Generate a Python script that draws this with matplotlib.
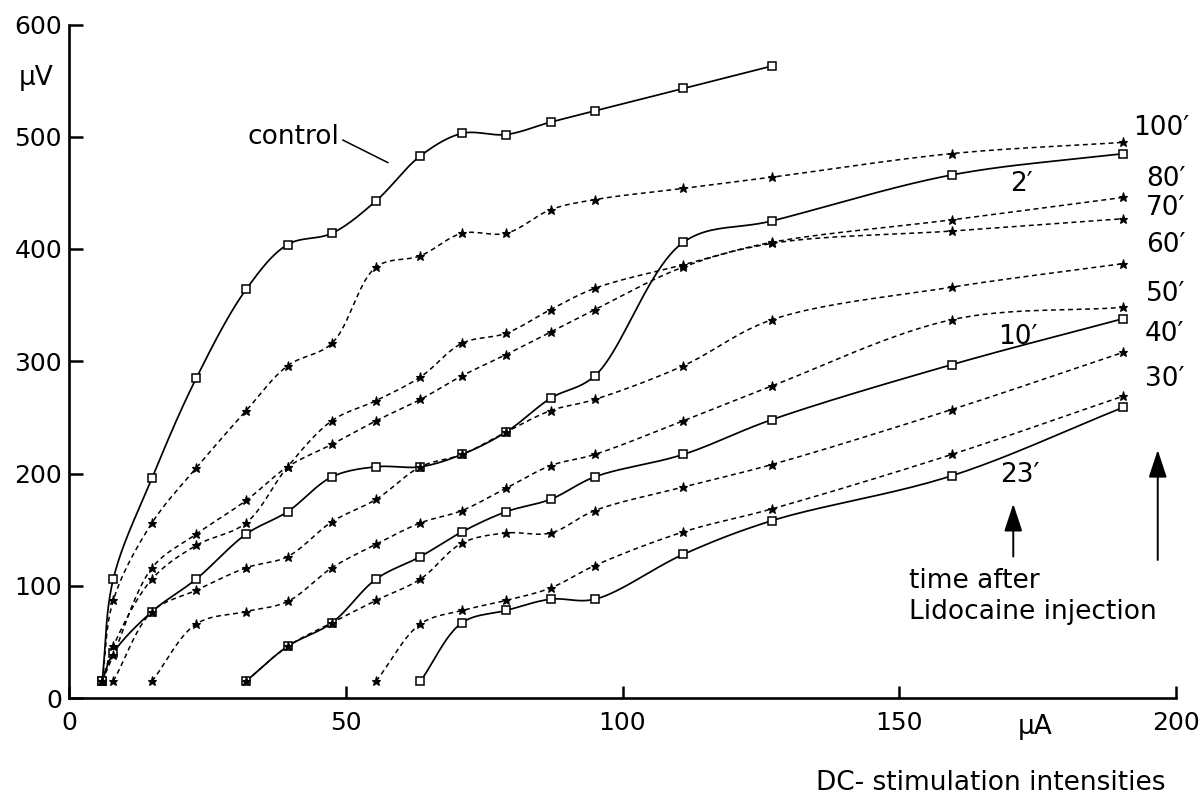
import numpy as np
import matplotlib
matplotlib.use("Agg")
import matplotlib.pyplot as plt

# ---------------- data ----------------
control_x = [6, 8, 15, 23, 32, 39.5, 47.5, 55.5, 63.5, 71, 79, 87, 95, 111, 127]
control_y = [15, 106, 196, 285, 364, 404, 414, 443, 483, 503, 502, 513, 523, 543, 563]

t100_x = [6, 8, 15, 23, 32, 39.5, 47.5, 55.5, 63.5, 71, 79, 87, 95, 111, 127, 159.5, 190.5]
t100_y = [15, 87, 156, 205, 256, 296, 316, 384, 394, 414, 414, 435, 444, 454, 464, 485, 495]

t80_x = [6, 8, 15, 23, 32, 39.5, 47.5, 55.5, 63.5, 71, 79, 87, 95, 111, 127, 159.5, 190.5]
t80_y = [15, 46, 106, 136, 156, 206, 247, 265, 286, 316, 325, 346, 365, 386, 406, 426, 446]

t70_x = [6, 8, 15, 23, 32, 39.5, 47.5, 55.5, 63.5, 71, 79, 87, 95, 111, 127, 159.5, 190.5]
t70_y = [15, 38, 116, 146, 176, 206, 226, 247, 266, 287, 306, 326, 346, 384, 405, 416, 427]

t60_x = [8, 15, 23, 32, 39.5, 47.5, 55.5, 63.5, 71, 79, 87, 95, 111, 127, 159.5, 190.5]
t60_y = [15, 77, 96, 116, 126, 157, 177, 206, 217, 237, 256, 266, 296, 337, 366, 387]

t50_x = [15, 23, 32, 39.5, 47.5, 55.5, 63.5, 71, 79, 87, 95, 111, 127, 159.5, 190.5]
t50_y = [15, 66, 77, 86, 116, 137, 156, 167, 187, 207, 217, 247, 278, 337, 348]

t40_x = [32, 39.5, 47.5, 55.5, 63.5, 71, 79, 87, 95, 111, 127, 159.5, 190.5]
t40_y = [15, 46, 67, 87, 106, 138, 147, 147, 167, 188, 208, 257, 308]

t30_x = [55.5, 63.5, 71, 79, 87, 95, 111, 127, 159.5, 190.5]
t30_y = [15, 66, 78, 87, 98, 118, 148, 168.5, 217, 269]

t2_x = [6, 8, 15, 23, 32, 39.5, 47.5, 55.5, 63.5, 71, 79, 87, 95, 111, 127, 159.5, 190.5]
t2_y = [15, 40, 77, 106, 146, 166, 197, 206, 206, 217, 237, 267, 287, 406, 425, 466, 485]

t10_x = [32, 39.5, 47.5, 55.5, 63.5, 71, 79, 87, 95, 111, 127, 159.5, 190.5]
t10_y = [15, 46, 67, 106, 126, 148, 166, 177, 197, 217, 248, 297, 338]

t23_x = [63.5, 71, 79, 87, 95, 111, 127, 159.5, 190.5]
t23_y = [15, 67, 78, 88, 88, 128, 158, 198, 259]

series_labels = ["100\u2032", "80\u2032", "70\u2032", "60\u2032", "50\u2032", "40\u2032", "30\u2032"]
label_2, label_10, label_23 = "2\u2032", "10\u2032", "23\u2032"

x_ticks = [0, 50, 100, 150, 200]
y_ticks = [0, 100, 200, 300, 400, 500, 600]

# ---------------- helpers ----------------
SX, SY = 5.535, 1.12  # approx px per data unit, used only to shape the spline


def smooth(xs, ys, n=24, alpha=0.5):
    P = np.column_stack([np.asarray(xs, float) * SX, np.asarray(ys, float) * SY])
    P = np.vstack([2 * P[0] - P[1], P, 2 * P[-1] - P[-2]])
    out = []
    for i in range(1, len(P) - 2):
        p0, p1, p2, p3 = P[i - 1], P[i], P[i + 1], P[i + 2]
        t0 = 0.0
        t1 = t0 + max(np.linalg.norm(p1 - p0), 1e-6) ** alpha
        t2 = t1 + max(np.linalg.norm(p2 - p1), 1e-6) ** alpha
        t3 = t2 + max(np.linalg.norm(p3 - p2), 1e-6) ** alpha
        t = np.linspace(t1, t2, n)[:, None]
        A1 = (t1 - t) / (t1 - t0) * p0 + (t - t0) / (t1 - t0) * p1
        A2 = (t2 - t) / (t2 - t1) * p1 + (t - t1) / (t2 - t1) * p2
        A3 = (t3 - t) / (t3 - t2) * p2 + (t - t2) / (t3 - t2) * p3
        B1 = (t2 - t) / (t2 - t0) * A1 + (t - t0) / (t2 - t0) * A2
        B2 = (t3 - t) / (t3 - t1) * A2 + (t - t1) / (t3 - t1) * A3
        C = (t2 - t) / (t2 - t1) * B1 + (t - t1) / (t2 - t1) * B2
        out.append(C if i == 1 else C[1:])
    C = np.vstack(out)
    return C[:, 0] / SX, C[:, 1] / SY


plt.rcParams['font.family'] = ['DejaVu Sans']
FS = 19
FT = 18

fig = plt.figure(figsize=(12.04, 7.98), dpi=100)
ax = fig.add_axes([69 / 1204, 1 - 698 / 798, (1176 - 69) / 1204, (698 - 24.5) / 798])
ax.set_xlim(0, 200)
ax.set_ylim(0, 600)

DASH = (0, (3.2, 2.4))


def draw(xs, ys, kind):
    sx, sy = smooth(xs, ys)
    if kind == 'solid':
        ax.plot(sx, sy, color='black', lw=1.25, solid_capstyle='round', zorder=3)
        ax.plot(xs, ys, ls='none', marker='s', ms=5.4, mfc='white', mec='black', mew=1.1, zorder=4)
    else:
        ax.plot(sx, sy, color='black', lw=1.1, linestyle=DASH, zorder=2)
        ax.plot(xs, ys, ls='none', marker='*', ms=6.8, mfc='black', mec='black', mew=0.8, zorder=5)


for xs, ys in [(t100_x, t100_y), (t80_x, t80_y), (t70_x, t70_y), (t60_x, t60_y),
               (t50_x, t50_y), (t40_x, t40_y), (t30_x, t30_y)]:
    draw(xs, ys, 'dashed')
for xs, ys in [(control_x, control_y), (t2_x, t2_y), (t10_x, t10_y), (t23_x, t23_y)]:
    draw(xs, ys, 'solid')

# ---------------- axes styling ----------------
for s in ['top', 'right']:
    ax.spines[s].set_visible(False)
for s in ['left', 'bottom']:
    ax.spines[s].set_linewidth(1.9)
ax.set_xticks(x_ticks)
ax.set_yticks(y_ticks)
ax.set_xticklabels([str(v) for v in x_ticks])
ax.set_yticklabels([str(v) for v in y_ticks])
ax.tick_params(axis='y', direction='in', length=10, width=1.8, pad=5, labelsize=FT)
ax.tick_params(axis='x', direction='in', length=9, width=1.8, pad=9, labelsize=FT)

# ---------------- annotations ----------------
ax.text(40.5, 500, "control", fontsize=FS, ha='center', va='center')
ax.plot([49.5, 57.6], [497, 477], color='black', lw=1.1)

lab_x = [192.2, 194.6, 194.6, 194.6, 194.6, 194.4, 194.4]
lab_y = [508, 462.5, 436.6, 403.6, 360, 324, 284]
for lab, xx, yy in zip(series_labels, lab_x, lab_y):
    ax.text(xx, yy, lab, fontsize=FS, ha='left', va='center', clip_on=False)
ax.text(172, 458, label_2, fontsize=FS, ha='center', va='center')
ax.text(171.5, 322, label_10, fontsize=FS, ha='center', va='center')
ax.text(171.8, 199, label_23, fontsize=FS, ha='center', va='center')

arrow_kw = dict(arrowstyle='-|>,head_length=0.85,head_width=0.28', lw=1.4, color='black',
                mutation_scale=20, shrinkA=0, shrinkB=0)
ax.annotate('', xy=(170.6, 173), xytext=(170.6, 126), arrowprops=arrow_kw)
ax.annotate('', xy=(196.7, 221), xytext=(196.7, 123), arrowprops=arrow_kw)

ax.text(151.8, 116, "time after\nLidocaine injection", fontsize=FS, ha='left', va='top',
        linespacing=1.25)

fig.text(36 / 1204, 1 - 78 / 798, "\u03bcV", fontsize=FS, ha='center', va='center')
ax.text(174.5, -26, "\u03bcA", fontsize=FS, ha='center', va='center', clip_on=False)
fig.text(1166 / 1204, 1 - 783 / 798, "DC- stimulation intensities", fontsize=FS,
         ha='right', va='center')

fig.savefig("out.png", dpi=100)
